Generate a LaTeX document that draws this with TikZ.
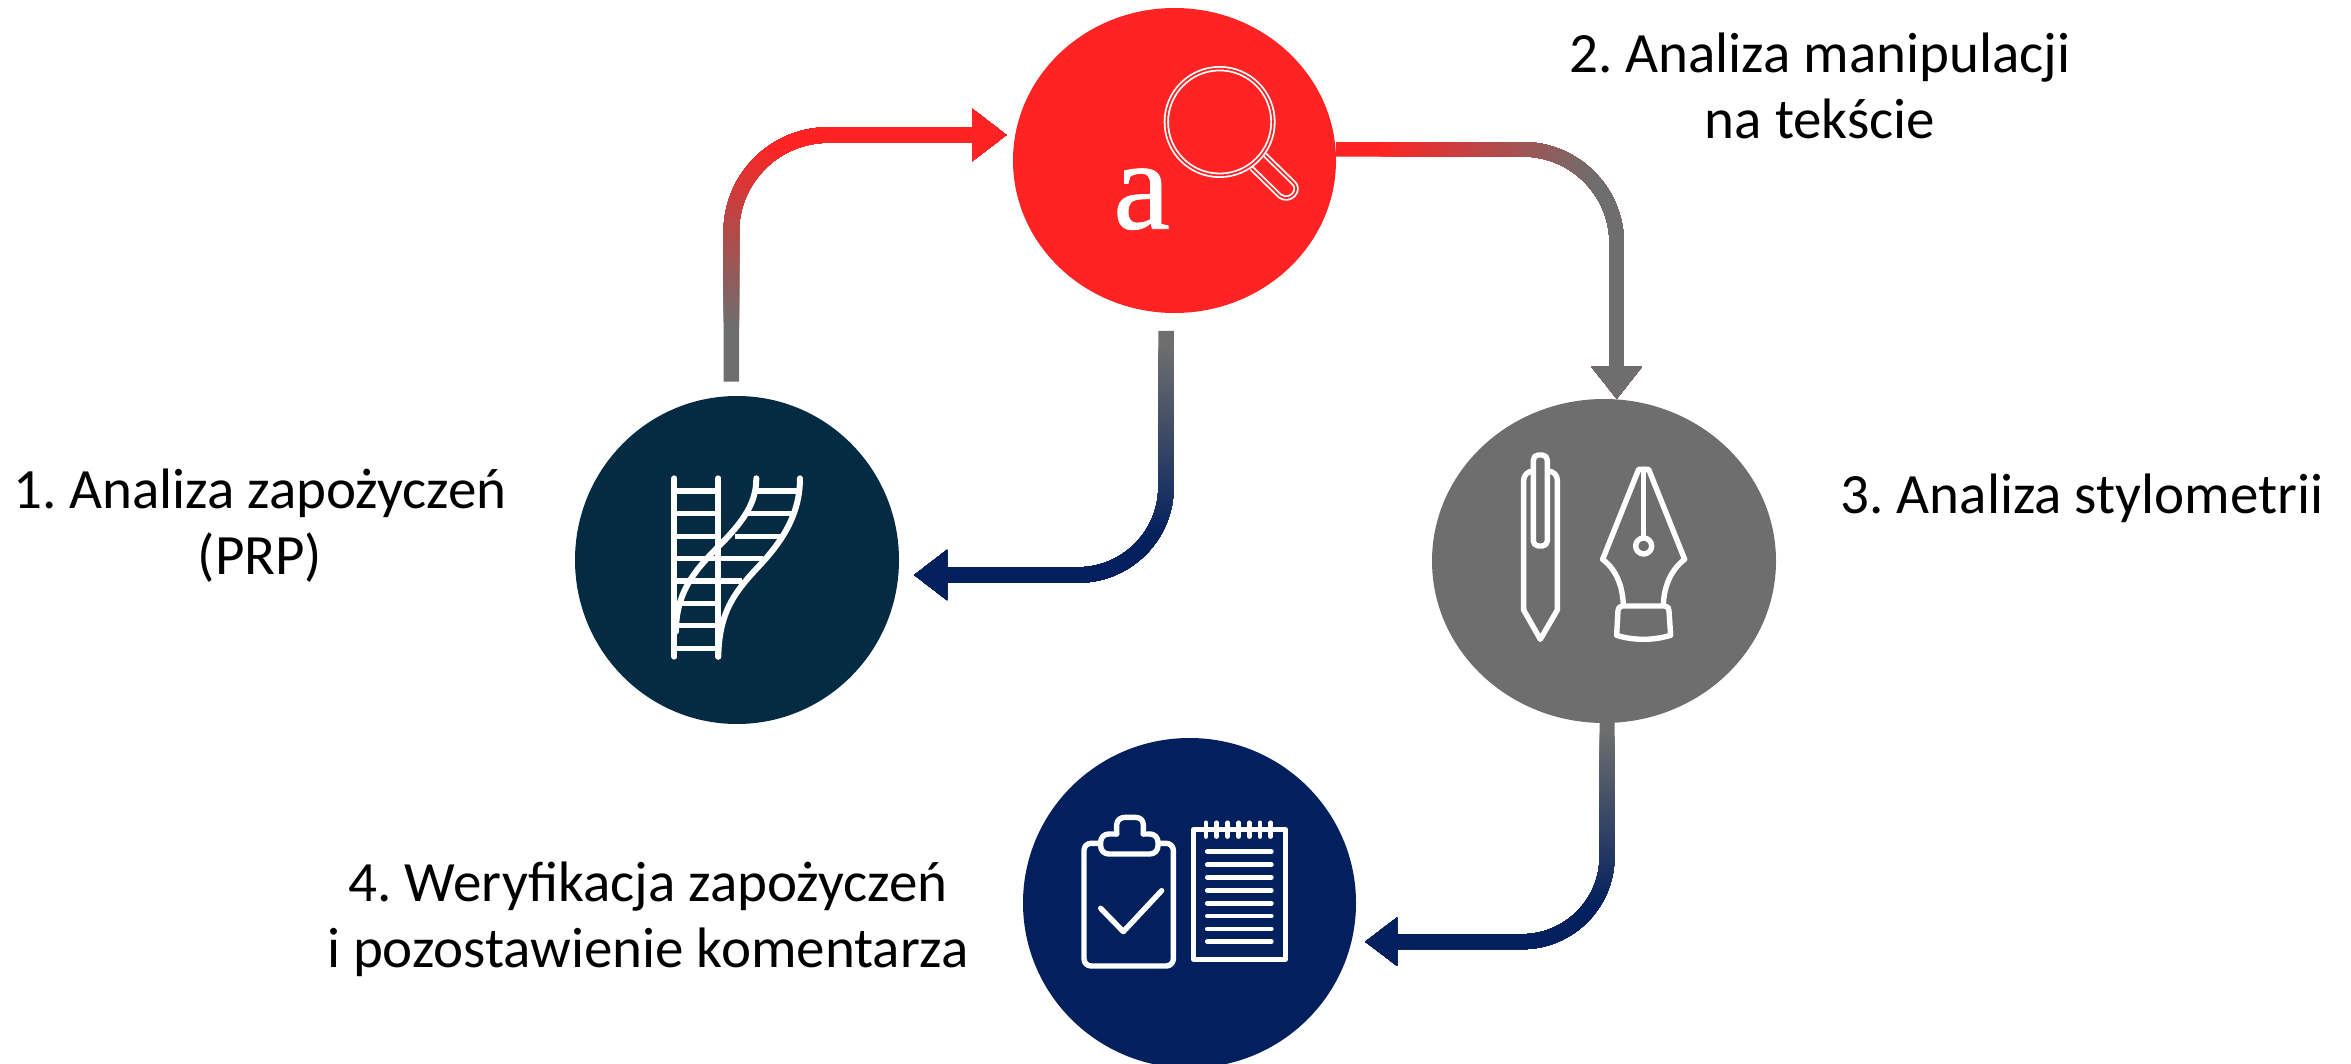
\documentclass[tikz,border=0pt]{standalone}
\usepackage{fontspec}
\setmainfont{Carlito}
\newfontfamily\letterfont[FakeBold=0.6]{Liberation Serif}
\usetikzlibrary{shapes.geometric,arrows.meta}
\definecolor{cred}{HTML}{FF2323}
\definecolor{cteal}{HTML}{052B42}
\definecolor{cgray}{HTML}{6E6E6E}
\definecolor{cnavy}{HTML}{02205E}
\tikzset{
  stage/.style={ellipse,inner sep=0pt,draw=none},
  label/.style={align=center,text=black,inner sep=0pt,font=\fontsize{57}{66}\selectfont\frenchspacing},
  icon/.style={draw=white,line width=6pt,line cap=round,line join=round},
  thinicon/.style={draw=white,line width=5.4pt,line cap=round,line join=round},
}
% #1,#2 gradient start; #3,#4 gradient end; #5,#6 colours; #7 path options; #8 path
\newcommand{\gradconnector}[8]{%
  \pgfmathsetmacro{\gang}{atan2(#2-#4,#3-#1)}%
  \draw[#5,#7] #8;
  \foreach \k in {1,...,40}{%
    \pgfmathsetmacro{\gx}{#1+\k/40*(#3-#1)}%
    \pgfmathsetmacro{\gy}{#2+\k/40*(#4-#2)}%
    \pgfmathsetmacro{\gp}{\k/40*100}%
    \colorlet{gmix}{#6!\gp!#5}%
    \begin{scope}
      \clip[shift={(\gx,\gy)},rotate=\gang] (0,-3000) rectangle (4000,3000);
      \draw[gmix,#7] #8;
    \end{scope}
  }%
}
\begin{document}
\begin{tikzpicture}[x=1pt,y=-1pt]
\useasboundingbox (0,0) rectangle (2351,1064);

% stages
\node[stage,fill=cteal,minimum width=324pt,minimum height=328pt] (c1) at (737,560) {};
\node[stage,fill=cred,minimum width=323pt,minimum height=305pt] (c2) at (1174.5,160.5) {};
\node[stage,fill=cgray,minimum width=344pt,minimum height=324pt] (c3) at (1604,561) {};
\node[stage,fill=cnavy,minimum width=333pt,minimum height=330pt] (c4) at (1189.5,903) {};

% connector ends
\coordinate (a1s) at (731.3,381.7);
\coordinate (a1e) at (1006.7,135);
\coordinate (a2s) at (c2.east |- 0,149.3);
\coordinate (a2e) at (1616.7,399);
\coordinate (a3s) at (1166,331);
\coordinate (a3e) at (914,575);
\coordinate (a4s) at (1607,718);
\coordinate (a4e) at (1365,941.7);

% connectors
\gradconnector{731}{330}{790}{150}{cgray}{cred}
  {line width=15.5pt,rounded corners=97pt,-{Triangle[length=34.4pt,width=50pt]}}{(a1s) |- (a1e)}
\gradconnector{1375}{150}{1590}{190}{cred}{cgray}
  {line width=14.5pt,rounded corners=94pt,-{Triangle[length=32pt,width=48pt]}}{(a2s) -| (a2e)}
\gradconnector{1166}{345}{1130}{530}{cgray}{cnavy}
  {line width=15.5pt,rounded corners=88pt,-{Triangle[length=33pt,width=48pt]}}{(a3s) |- (a3e)}
\gradconnector{1607}{730}{1575}{900}{cgray}{cnavy}
  {line width=15pt,rounded corners=85pt,-{Triangle[length=32pt,width=46pt]}}{(a4s) |- (a4e)}

% labels
\node[label] (t1) at (260,526) {1. Analiza zapożyczeń\\(PRP)};
\node[label] (t2) at (1820,86) {2. Analiza manipulacji\\na tekście};
\node[label] (t3) at (2082,498) {3. Analiza stylometrii};
\node[label] (t4) at (648,919) {4. Weryfikacja zapożyczeń\\i pozostawienie komentarza};

% icon: two ladders (zoom coordinates)
\begin{scope}[shift={(570,390)},x=0.3333pt,y=-0.3333pt]
  \draw[icon] (313,265) -- (313,800);
  \draw[icon] (445,265) -- (445,800);
  \foreach \yy in {303,371,439,506,573,640,707,775}
    \draw[draw=white,line width=5.4pt] (313,\yy) -- (445,\yy);
  \draw[icon] (559,265) .. controls (559,340) and (520,395) .. (445,470)
     .. controls (370,545) and (318,610) .. (318,725);
  \draw[icon] (690,265) .. controls (690,370) and (640,450) .. (570,525)
     .. controls (500,600) and (447,660) .. (445,800);
  \draw[draw=white,line width=5.4pt] (555,303) -- (688,303);
  \draw[draw=white,line width=5.4pt] (530,371) -- (668,371);
  \draw[draw=white,line width=5.4pt] (495,439) -- (630,439);
  \draw[draw=white,line width=5.4pt] (445,506) -- (580,506);
  \draw[draw=white,line width=5.4pt] (445,573) -- (515,573);
\end{scope}

% icon: magnifying glass and letter
\begin{scope}[shift={(1000,0)},x=0.3333pt,y=-0.3333pt]
  \draw[draw=white,line width=1.8pt,double=cred,double distance=1.7pt,line join=round]
    (755,505) -- (840,588) .. controls (870,610) and (905,570) .. (880,548) -- (795,465);
  \draw[draw=white,line width=1.8pt,double=cred,double distance=1.7pt,fill=cred]
    (659,366) circle[radius=160];
  \node[anchor=base,text=white,inner sep=0pt,font=\letterfont\fontsize{128}{128}\selectfont] (letter) at (425,686) {a};
\end{scope}

% icon: pen and nib
\begin{scope}[shift={(1430,400)},x=0.3333pt,y=-0.3333pt]
  \draw[thinicon] (281,630) -- (281,240) .. controls (281,225) and (295,213) .. (310,213);
  \draw[thinicon] (352,213) .. controls (370,213) and (382,225) .. (382,240) -- (382,630) -- (331,718) -- (281,630);
  \draw[thinicon,rounded corners=5pt] (310,165) rectangle (352,438);
  \draw[thinicon] (518,478) -- (626,208) -- (656,208) -- (764,478);
  \draw[thinicon] (641,208) -- (641,412);
  \draw[thinicon] (641,438) circle[radius=24];
  \draw[thinicon] (518,478) .. controls (560,510) and (578,560) .. (580,615);
  \draw[thinicon] (764,478) .. controls (722,510) and (702,560) .. (700,615);
  \draw[thinicon] (578,618) -- (704,618) .. controls (713,618) and (717,624) .. (717,632)
     -- (722,706) .. controls (670,722) and (610,722) .. (560,706) -- (564,632)
     .. controls (564,624) and (569,618) .. (578,618);
\end{scope}

% icon: clipboard and notepad
\begin{scope}[shift={(1020,760)},x=0.3333pt,y=-0.3333pt]
  \draw[thinicon,rounded corners=7pt] (238,250) -- (192,250) -- (192,618) -- (460,618) -- (460,250) -- (416,250);
  \draw[thinicon,rounded corners=8pt] (290,222) -- (242,222) -- (242,282) -- (414,282) -- (414,222) -- (370,222);
  \draw[thinicon] (290,222) -- (290,195) .. controls (290,178) and (305,172) .. (315,172) -- (345,172)
     .. controls (360,172) and (370,180) .. (370,195) -- (370,222);
  \draw[thinicon] (242,445) -- (310,515) -- (425,392);
  \draw[draw=white,line width=4.4pt,line join=round] (520,208) rectangle (797,598);
  \foreach \xx in {558,590,623,656,688,720,752}
    \draw[draw=white,line width=4.4pt,line cap=round] (\xx,188) -- (\xx,230);
  \foreach \yy in {275,314,352,391,430,468,507,545}
    \draw[draw=white,line width=4.8pt,line cap=round] (562,\yy) -- (754,\yy);
\end{scope}
\end{tikzpicture}
\end{document}
